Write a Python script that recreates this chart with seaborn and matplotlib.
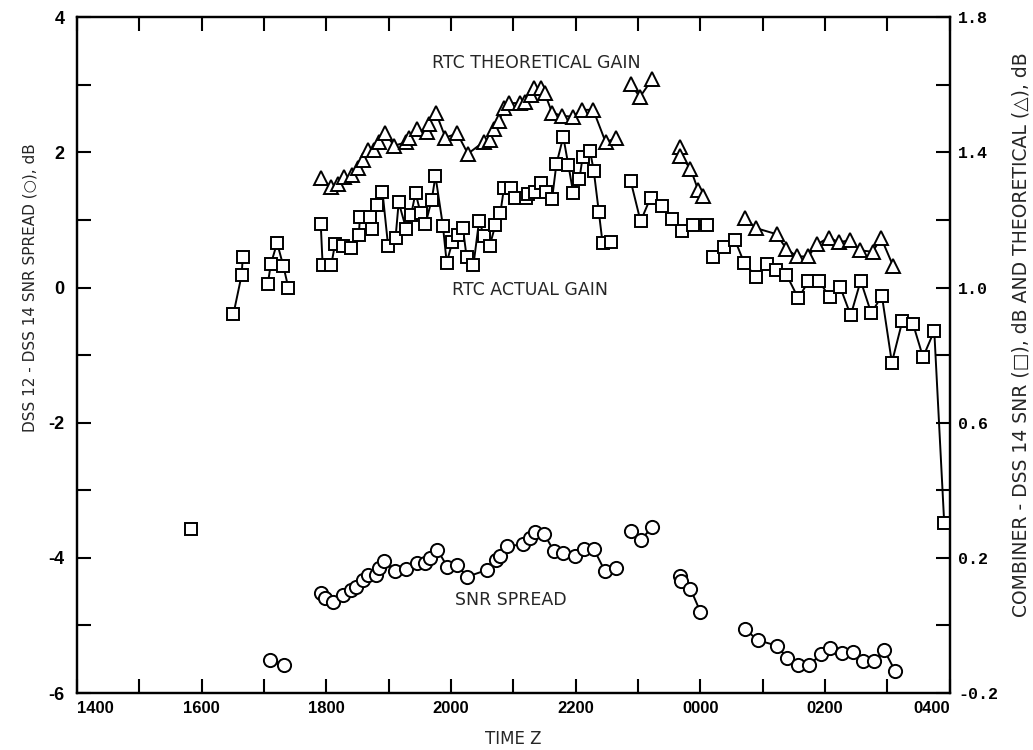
import matplotlib
matplotlib.use('Agg')
import matplotlib.pyplot as plt
import numpy as np
import pandas as pd
import seaborn as sns

# time in decimal hours Z, values past 24 are after midnight (0000-0400)
# each inner list is one connected run of points

# SNR spread, left axis (dB)
snr_time = [
    [17.09, 17.32],
    [17.91, 17.98, 18.10, 18.27, 18.40, 18.48, 18.58, 18.67, 18.80, 18.84, 18.93,
     19.10, 19.27, 19.45, 19.59, 19.66, 19.78, 19.94, 20.10, 20.26, 20.57, 20.72,
     20.78, 20.89, 21.15, 21.26, 21.34, 21.49, 21.65, 21.80, 21.99, 22.13, 22.29,
     22.47, 22.64],
    [22.89, 23.04, 23.23],
    [23.67, 23.69, 23.84, 24.00],
    [24.71, 24.92, 25.23, 25.39, 25.56, 25.74, 25.93, 26.07, 26.27, 26.44, 26.60,
     26.79, 26.95, 27.12],
]
snr_spread = [
    [-5.51, -5.59],
    [-4.52, -4.60, -4.66, -4.55, -4.48, -4.43, -4.33, -4.26, -4.25, -4.15, -4.05,
     -4.20, -4.16, -4.08, -4.08, -4.00, -3.88, -4.13, -4.11, -4.28, -4.18, -4.03,
     -3.98, -3.83, -3.80, -3.70, -3.62, -3.64, -3.90, -3.93, -3.97, -3.87, -3.87,
     -4.20, -4.15],
    [-3.61, -3.74, -3.54],
    [-4.27, -4.34, -4.46, -4.80],
    [-5.05, -5.22, -5.30, -5.48, -5.59, -5.59, -5.43, -5.33, -5.41, -5.39, -5.52,
     -5.53, -5.37, -5.67],
]

# RTC actual gain (combiner - DSS 14 SNR), right axis (dB)
actual_time = [
    [15.83],
    [16.51, 16.64, 16.66],
    [17.06, 17.11, 17.21, 17.31, 17.39],
    [17.91, 17.94, 18.08, 18.14, 18.27, 18.39, 18.52, 18.54, 18.70, 18.74, 18.82,
     18.90, 18.99, 19.11, 19.16, 19.28, 19.36, 19.43, 19.51, 19.59, 19.69, 19.75,
     19.87, 19.93, 20.02, 20.11, 20.19, 20.25, 20.36, 20.45, 20.53, 20.62, 20.71,
     20.79, 20.85, 20.96, 21.02, 21.20, 21.23, 21.34, 21.44, 21.52, 21.62, 21.69,
     21.80, 21.88, 21.96, 22.06, 22.11, 22.23, 22.29, 22.37, 22.43, 22.57],
    [22.88, 23.04, 23.20, 23.38, 23.54, 23.71, 23.88, 24.10],
    [24.20, 24.38, 24.55, 24.70, 24.89, 25.06, 25.21, 25.38, 25.57, 25.73, 25.90,
     26.07, 26.24, 26.41, 26.57, 26.74, 26.91, 27.07, 27.24, 27.41, 27.57, 27.75,
     27.91],
]
actual_gain = [
    [0.284],
    [0.922, 1.036, 1.090],
    [1.010, 1.070, 1.132, 1.064, 1.000],
    [1.188, 1.068, 1.068, 1.130, 1.122, 1.116, 1.156, 1.210, 1.210, 1.172, 1.244,
     1.284, 1.124, 1.148, 1.252, 1.174, 1.216, 1.280, 1.222, 1.188, 1.260, 1.330,
     1.182, 1.074, 1.134, 1.156, 1.176, 1.090, 1.068, 1.198, 1.152, 1.124, 1.184,
     1.220, 1.296, 1.296, 1.264, 1.264, 1.278, 1.284, 1.308, 1.284, 1.262, 1.366,
     1.446, 1.364, 1.280, 1.322, 1.386, 1.404, 1.344, 1.224, 1.132, 1.136],
    [1.316, 1.196, 1.266, 1.240, 1.204, 1.168, 1.184, 1.186],
    [1.090, 1.120, 1.142, 1.074, 1.032, 1.070, 1.052, 1.038, 0.968, 1.018, 1.020,
     0.972, 1.002, 0.918, 1.020, 0.924, 0.976, 0.778, 0.902, 0.892, 0.794, 0.872,
     0.302],
]

# RTC theoretical gain, right axis (dB)
theory_time = [
    [17.91, 18.07, 18.19, 18.28, 18.41, 18.50, 18.59, 18.66, 18.76, 18.85, 18.94,
     19.09, 19.28, 19.32, 19.45, 19.61, 19.64, 19.76, 19.91, 20.10, 20.27, 20.53,
     20.62, 20.69, 20.77, 20.85, 20.93, 21.10, 21.19, 21.28, 21.33, 21.45, 21.50,
     21.62, 21.78, 21.95, 22.10, 22.28, 22.48, 22.64],
    [22.88, 23.03, 23.23],
    [23.67, 23.68, 23.84, 23.96, 24.04],
    [24.71, 24.89, 25.22, 25.38, 25.55, 25.73, 25.87, 26.06, 26.22, 26.40, 26.56,
     26.76, 26.90, 27.09],
]
theory_gain = [
    [1.324, 1.298, 1.306, 1.326, 1.332, 1.354, 1.378, 1.406, 1.406, 1.430, 1.456,
     1.420, 1.430, 1.444, 1.470, 1.460, 1.484, 1.516, 1.444, 1.456, 1.396, 1.432,
     1.438, 1.468, 1.494, 1.530, 1.546, 1.546, 1.548, 1.570, 1.590, 1.592, 1.576,
     1.518, 1.508, 1.506, 1.526, 1.526, 1.430, 1.442],
    [1.602, 1.564, 1.618],
    [1.416, 1.390, 1.352, 1.290, 1.270],
    [1.206, 1.176, 1.158, 1.114, 1.092, 1.092, 1.128, 1.148, 1.134, 1.140, 1.110,
     1.106, 1.146, 1.064],
]

time_ticks = [14, 16, 18, 20, 22, 24, 26, 28]
time_labels = ['1400', '1600', '1800', '2000', '2200', '0000', '0200', '0400']


def to_frame(times, values):
    rows = []
    for seg, (ts, vs) in enumerate(zip(times, values)):
        for t, v in zip(ts, vs):
            rows.append((seg, t, v))
    return pd.DataFrame(rows, columns=['seg', 'time', 'db'])


snr_df = to_frame(snr_time, snr_spread)
actual_df = to_frame(actual_time, actual_gain)
theory_df = to_frame(theory_time, theory_gain)

sns.set_style('ticks')
plt.rcParams['font.family'] = ['DejaVu Sans']

fig = plt.figure(figsize=(10.33, 7.5), dpi=100)
ax = fig.add_axes([0.0745, 0.076, 0.845, 0.901])
ax2 = ax.twinx()

line_kw = dict(estimator=None, color='black', lw=1.4, mfc='white', mec='black',
               mew=1.4, legend=False)
sns.lineplot(data=snr_df, x='time', y='db', units='seg', ax=ax, marker='o',
             ms=9.5, **line_kw)
sns.lineplot(data=actual_df, x='time', y='db', units='seg', ax=ax2, marker='s',
             ms=9, **line_kw)
sns.lineplot(data=theory_df, x='time', y='db', units='seg', ax=ax2, marker='^',
             ms=10, **line_kw)

ax.set_xlim(14, 28)
ax.set_ylim(-6, 4)
ax2.set_ylim(-0.2, 1.8)

ax.set_xticks(time_ticks)
ax.set_xticklabels(time_labels, fontfamily='Liberation Sans', fontweight='bold',
                   fontsize=12)
ax.set_xticks(np.arange(15, 28, 2), minor=True)
lbls = ax.get_xticklabels()
lbls[0].set_ha('left')
lbls[-1].set_ha('right')

ax.set_yticks(np.arange(-6, 5, 2))
ax.set_yticklabels([str(v) if v >= 0 else '-' + str(-v) for v in range(-6, 5, 2)],
                   fontfamily='Liberation Sans', fontweight='bold', fontsize=13)
ax.set_yticks(np.arange(-5, 4, 2), minor=True)

ax2.set_yticks([-0.2, 0.2, 0.6, 1.0, 1.4, 1.8])
ax2.set_yticklabels(['-0.2', '0.2', '0.6', '1.0', '1.4', '1.8'],
                    fontfamily='Liberation Mono', fontweight='bold', fontsize=12)
ax2.set_yticks([0.0, 0.4, 0.8, 1.2, 1.6], minor=True)

for a in (ax, ax2):
    for s in a.spines.values():
        s.set_visible(True)
        s.set_linewidth(1.6)
        s.set_color('black')
ax.tick_params(axis='x', which='both', direction='in', top=True, length=10,
               width=1.5, pad=6, colors='black')
ax.tick_params(axis='y', which='both', direction='in', right=False, length=10,
               width=1.5, pad=9, colors='black')
ax2.tick_params(axis='y', which='both', direction='in', length=10, width=1.5,
                pad=6, colors='black')

ax.set_xlabel('TIME Z', fontsize=12, labelpad=10)
ax.set_ylabel('DSS 12 - DSS 14 SNR SPREAD (○), dB', fontsize=11)
ax.yaxis.set_label_coords(-0.045, 0.6)
ax2.set_ylabel('COMBINER - DSS 14 SNR (□), dB AND THEORETICAL (△), dB',
               fontsize=13.5)
ax2.yaxis.set_label_coords(1.071, 0.53)

ax.text(21.36, 3.33, 'RTC THEORETICAL GAIN', fontsize=12.5, ha='center',
        va='center')
ax.text(21.27, -0.04, 'RTC ACTUAL GAIN', fontsize=12.5, ha='center', va='center')
ax.text(20.96, -4.63, 'SNR SPREAD', fontsize=12.5, ha='center', va='center')

fig.savefig('out.png', dpi=100)
